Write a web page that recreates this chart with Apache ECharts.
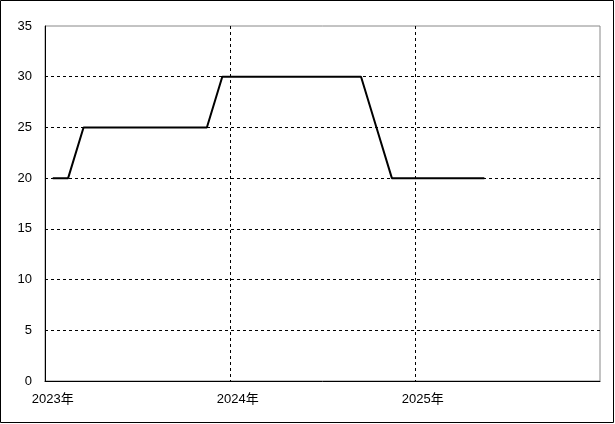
<!DOCTYPE html>
<html><head><meta charset="utf-8">
<script src="https://cdn.jsdelivr.net/npm/echarts@6/dist/echarts.min.js"></script>
<style>html,body{margin:0;padding:0;background:#fff}#c{width:615px;height:424px}</style>
</head><body><div id="c"></div>
<script>
// 36 monthly categories, Jan 2023 .. Dec 2025
const years = [2023, 2024, 2025];
const months = [];
years.forEach(y => { for (let m = 1; m <= 12; m++) months.push(y + '-' + m); });
const values = [20, 20, 25, 25, 25, 25, 25, 25, 25, 25, 25, 30,
                30, 30, 30, 30, 30, 30, 30, 30, 30, 25, 20, 20,
                20, 20, 20, 20, 20, null, null, null, null, null, null, null];
const yTicks = { min: 0, max: 35, interval: 5 };

const chart = echarts.init(document.getElementById('c'));
const font = "'Liberation Sans','Noto Sans CJK JP',sans-serif";
chart.setOption({
  animation: false,
  backgroundColor: '#fff',
  grid: { left: 45, right: 15, top: 26, bottom: 43, show: true, borderColor: '#888', borderWidth: 1 },
  xAxis: {
    type: 'category', data: months, boundaryGap: true,
    axisLine: { lineStyle: { color: '#000', width: 1 } },
    axisTick: { show: false },
    axisLabel: {
      interval: 11, margin: 12, color: '#000', fontSize: 13, fontFamily: font,
      formatter: v => v.split('-')[0] + '年'
    },
    splitLine: { show: true, interval: 11, showMinLine: false, showMaxLine: false,
      lineStyle: { color: '#000', type: [3, 3], width: 1 } }
  },
  yAxis: {
    type: 'value', min: yTicks.min, max: yTicks.max, interval: yTicks.interval,
    axisLine: { show: true, lineStyle: { color: '#000', width: 1 } },
    axisTick: { show: false },
    axisLabel: { margin: 13, color: '#000', fontSize: 13, fontFamily: font },
    splitLine: { show: true, showMinLine: false, showMaxLine: false,
      lineStyle: { color: '#000', type: [3, 3], width: 1 } }
  },
  series: [{
    type: 'line', data: values, symbol: 'none', connectNulls: false,
    lineStyle: { color: '#000', width: 2 }
  }],
  graphic: [{
    type: 'rect', silent: true, z: 100,
    shape: { x: 0.5, y: 0.5, width: 613, height: 422 },
    style: { fill: 'none', stroke: '#000', lineWidth: 1 }
  }]
});
</script></body></html>
